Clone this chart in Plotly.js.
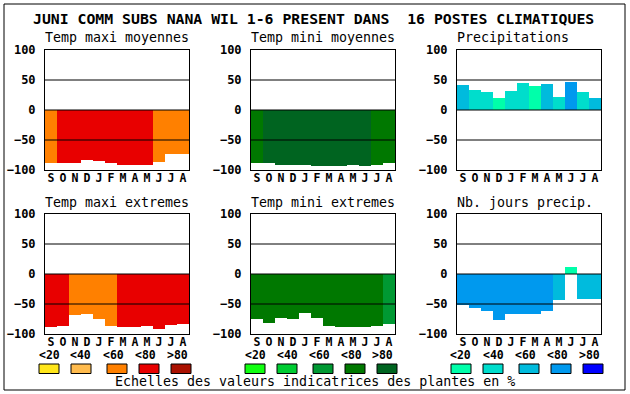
<!DOCTYPE html>
<html>
<head>
<meta charset="utf-8">
<script src="https://cdn.plot.ly/plotly-3.0.1.min.js"></script>
<style>html,body{margin:0;padding:0;background:#fff}#chart{width:630px;height:394px}</style>
</head>
<body>
<div id="chart"></div>
<script>
// ---- data ----
const months = ['S','O','N','D','J','F','M','A','M','J','J','A'];
const scaleLabels = ['<20','<40','<60','<80','>80'];
const redScale   = ['#FFE61A','#FFBB4D','#FF8000','#E80000','#AA1100'];
const greenScale = ['#11FF11','#00CC33','#009933','#007800','#006420'];
const blueScale  = ['#00FFAA','#00DDCC','#00BBDD','#0099EE','#0000FF'];

const panelTitles = ['Temp maxi moyennes','Temp mini moyennes','Precipitations',
                     'Temp maxi extremes','Temp mini extremes','Nb. jours precip.'];

const tmaxMoy      = [-88,-88,-88,-83,-85,-88,-91,-91,-91,-87,-74,-74];
const tmaxMoyClass = [2,3,3,3,3,3,3,3,3,2,2,2];
const tminMoy      = [-88,-88,-91,-91,-91,-93,-93,-93,-91,-93,-91,-88];
const tminMoyClass = [3,4,4,4,4,4,4,4,4,4,3,3];
const precip       = [42,33,30,20,32,45,40,43,22,47,30,20];
const precipClass  = [2,1,1,0,1,1,0,2,1,3,1,2];
const tmaxExt      = [-88,-87,-68,-67,-75,-87,-88,-88,-87,-92,-85,-83];
const tmaxExtClass = [3,3,2,2,2,2,3,3,3,3,3,3];
const tminExt      = [-75,-82,-73,-75,-65,-73,-87,-88,-88,-88,-87,-83];
const tminExtClass = [3,3,3,3,3,3,3,3,3,3,3,2];
const nbJours      = [-52,-57,-61,-77,-67,-66,-66,-61,-44,12,-41,-42];
const nbJoursClass = [3,3,3,3,3,3,3,3,2,0,2,2];

const yTicks = [-100,-50,0,50,100];
const gridVals = [-50,0,50];

// ---- layout helpers ----
const W = 630, H = 394;
const colPx = [[45,189],[251,395],[457,601]];
const rowPx = [[50,170],[214,334]];
const FONT = '"DejaVu Sans Mono", monospace';

const panels = [
  {v: tmaxMoy, c: tmaxMoyClass, s: redScale},
  {v: tminMoy, c: tminMoyClass, s: greenScale},
  {v: precip,  c: precipClass,  s: blueScale},
  {v: tmaxExt, c: tmaxExtClass, s: redScale},
  {v: tminExt, c: tminExtClass, s: greenScale},
  {v: nbJours, c: nbJoursClass, s: blueScale}
];

const xIdx = months.map((m,i)=>i);
const data = [];
const layout = {
  width: W, height: H,
  margin: {l:0,r:0,t:0,b:0},
  paper_bgcolor: '#fff', plot_bgcolor: '#fff',
  showlegend: false, bargap: 0,
  font: {family: FONT, color: '#000'},
  shapes: [], annotations: []
};

panels.forEach((p, k) => {
  const row = Math.floor(k/3), col = k%3;
  const n = k+1;
  const xa = 'x' + (n===1?'':n), ya = 'y' + (n===1?'':n);
  data.push({
    type: 'bar', x: xIdx, y: p.v, base: 0,
    xaxis: xa, yaxis: ya,
    marker: {color: p.c.map(ci => p.s[ci]), line: {width: 0}},
    width: 1, hoverinfo: 'skip'
  });
  const xd = [colPx[col][0]/W, colPx[col][1]/W];
  const yd = [1 - rowPx[row][1]/H, 1 - rowPx[row][0]/H];
  layout['xaxis' + (n===1?'':n)] = {
    domain: xd, anchor: ya, range: [-0.5, 11.5],
    tickvals: xIdx, ticktext: months, ticks: '',
    showgrid: false, zeroline: false, fixedrange: true,
    showline: true, linecolor: '#000', linewidth: 1, mirror: true,
    tickfont: {family: FONT, size: 11.5, color: '#000', weight: 'bold'},
    ticklabelstandoff: -3
  };
  layout['yaxis' + (n===1?'':n)] = {
    domain: yd, anchor: xa, range: [-100, 100],
    tickvals: yTicks, ticks: '',
    showgrid: false, zeroline: false, fixedrange: true,
    showline: true, linecolor: '#000', linewidth: 1, mirror: true,
    tickfont: {family: FONT, size: 12, color: '#000', weight: 'bold'},
    ticklabelstandoff: 6
  };
  gridVals.forEach(g => layout.shapes.push({
    type: 'line', xref: xa + ' domain', yref: ya,
    x0: 0, x1: 1, y0: g, y1: g, layer: 'above',
    line: {color: '#000', width: 1}
  }));
  layout.annotations.push({
    text: panelTitles[k], xref: 'paper', yref: 'paper',
    x: (colPx[col][0]-2)/W, y: 1 - (rowPx[row][0]-12)/H,
    xanchor: 'left', yanchor: 'middle', showarrow: false,
    font: {family: FONT, size: 13.3, color: '#000'}
  });
});

// main title
layout.annotations.push({
  text: 'JUNI COMM SUBS NANA WIL 1-6 PRESENT DANS  16 POSTES CLIMATIQUES',
  xref: 'paper', yref: 'paper', x: 313.5/W, y: 1 - 18.5/H,
  xanchor: 'center', yanchor: 'middle', showarrow: false,
  font: {family: FONT, size: 14.8, color: '#000', weight: 'bold'}
});

// frame
layout.shapes.push({type:'rect', xref:'paper', yref:'paper',
  x0: 4/W, x1: 625/W, y0: 1-390/H, y1: 1-4/H, line:{color:'#000', width:1}});

// legend scales
const legendGroups = [
  {scale: redScale,   labelX: [39,71,103,135,167], boxX: [39,71,107,139,171]},
  {scale: greenScale, labelX: [245,277,309,341,373], boxX: [245,277,313,345,377]},
  {scale: blueScale,  labelX: [451,483,515,547,579], boxX: [451,483,519,551,583]}
];
legendGroups.forEach(g => {
  g.scale.forEach((c, i) => {
    layout.shapes.push({type:'rect', xref:'paper', yref:'paper',
      x0: g.boxX[i]/W, x1: (g.boxX[i]+20)/W, y0: 1-373.5/H, y1: 1-364/H,
      fillcolor: c, line:{color:'#000', width:1}});
    layout.annotations.push({text: scaleLabels[i], xref:'paper', yref:'paper',
      x: (g.labelX[i]+10)/W, y: 1-354.5/H, xanchor:'center', yanchor:'middle',
      showarrow:false, font:{family: FONT, size: 11.5, color:'#000', weight:'bold'}});
  });
});
layout.annotations.push({
  text: 'Echelles des valeurs indicatrices des plantes en %',
  xref:'paper', yref:'paper', x: 314.5/W, y: 1-381.5/H,
  xanchor:'center', yanchor:'middle', showarrow:false,
  font:{family: FONT, size: 13.3, color:'#000'}
});

Plotly.newPlot('chart', data, layout, {staticPlot: true, displayModeBar: false});
</script>
</body>
</html>
